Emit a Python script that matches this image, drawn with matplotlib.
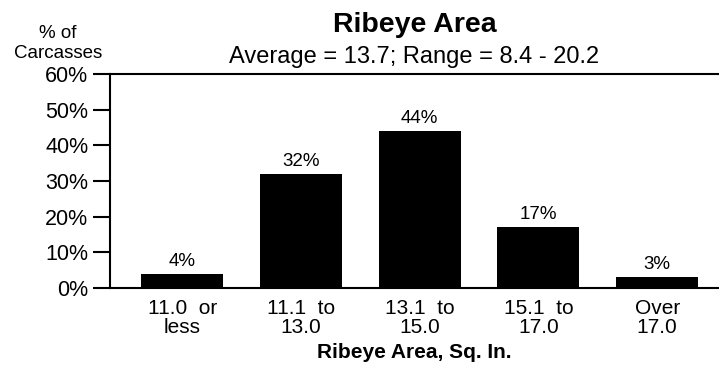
import matplotlib
matplotlib.use("Agg")
import matplotlib.pyplot as plt
from matplotlib.ticker import FixedLocator

plt.rcParams['font.family'] = ['Liberation Sans', 'DejaVu Sans']

categories = ["11.0  or\nless", "11.1  to\n13.0", "13.1  to\n15.0", "15.1  to\n17.0", "Over\n17.0"]
percent = [4, 32, 44, 17, 3]
y_ticks = [0, 10, 20, 30, 40, 50, 60]
y_tick_labels = ["0%", "10%", "20%", "30%", "40%", "50%", "60%"]

W, H = 719, 366
fig = plt.figure(figsize=(W / 100, H / 100), dpi=100)
ax = fig.add_axes([109.7 / W, 1 - 288 / H, 1 - 109.7 / W, (288 - 74) / H])

x = list(range(len(categories)))
ax.bar(x, percent, width=0.69, color="black", zorder=2)
for xi, v in zip(x, percent):
    ax.text(xi, v + 2.3, f"{v}%", ha="center", va="baseline", fontsize=13.5)

ax.set_xlim(-0.61, 4.52)
ax.set_ylim(0, 60)
ax.yaxis.set_major_locator(FixedLocator(y_ticks))
ax.set_yticklabels(y_tick_labels, fontsize=15.5)
ax.set_xticks(x)
ax.set_xticklabels(categories, fontsize=15, linespacing=1.02)
ax.tick_params(axis="x", length=0, pad=8)
ax.tick_params(axis="y", length=12, width=1.5, pad=3.5)

for side in ("left", "top", "bottom"):
    ax.spines[side].set_linewidth(1.5)
ax.spines["right"].set_visible(False)

ax.set_xlabel("Ribeye Area, Sq. In.", fontsize=15, fontweight="bold", labelpad=4)

cx = (109.7 + W) / 2 / W
fig.text(cx, 1 - 32 / H, "Ribeye Area", ha="center", va="baseline", fontsize=20.5, fontweight="bold")
fig.text(cx, 1 - 63 / H, "Average = 13.7; Range = 8.4 - 20.2", ha="center", va="baseline", fontsize=17)
fig.text(58 / W, 1 - 58 / H, "% of\nCarcasses", ha="center", va="baseline", fontsize=13.5, linespacing=1.2)

fig.savefig("out.png", dpi=100)
